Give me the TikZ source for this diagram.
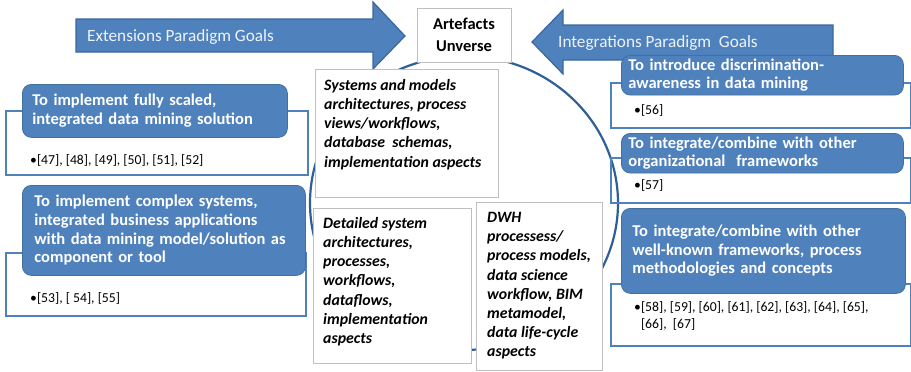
\documentclass[tikz,border=0pt]{standalone}
\usepackage{fontspec}
\setmainfont{Carlito}
\definecolor{goalblue}{HTML}{4F81BD}
\definecolor{goaledge}{HTML}{41719C}
\definecolor{arrowedge}{HTML}{3A679C}
\definecolor{arcblue}{HTML}{2F5F98}
\definecolor{boxgray}{HTML}{BFBFBF}
\definecolor{arrowtext}{HTML}{EEF3FA}

\tikzset{
  goalbox/.style={draw=goaledge, fill=goalblue, line width=0.8pt, rounded corners=9pt,
    anchor=north west, align=left, text=white,
    font=\fontsize{16.5}{18.6}\selectfont\bfseries},
  goalframe/.style={draw=goalblue, line width=2.2pt, anchor=north west, inner sep=0pt},
  artbox/.style={draw=boxgray, fill=white, line width=0.8pt, anchor=north west, inner sep=0pt},
  arttext/.style={anchor=north west, inner sep=0pt, align=left,
    font=\fontsize{15.8}{19.2}\selectfont\bfseries\itshape},
  reftext/.style={anchor=west, inner sep=0pt, align=left,
    font=\fontsize{13.7}{17}\selectfont},
  paradigm/.style={draw=arrowedge, fill=goalblue, line width=1.2pt, line join=miter},
  paradigmtext/.style={anchor=west, inner sep=0pt, text=arrowtext,
    font=\fontsize{17.2}{20}\selectfont},
  cycleline/.style={draw=arcblue, line width=2.2pt},
}

\begin{document}
\begin{tikzpicture}[x=1pt, y=-1pt]
\useasboundingbox (0,0) rectangle (911,372);

% the artefacts cycle behind everything
\draw[cycleline] (464,203) ellipse [x radius=154pt, y radius=147pt];

% paradigm arrows
\draw[paradigm] (76,19) -- (373,19) -- (373,2) -- (405,36) -- (373,69) -- (373,52) -- (76,52) -- cycle;
\node[paradigmtext] (extlabel) at (87,37) {Extensions Paradigm Goals};
\draw[paradigm] (833,25) -- (563,25) -- (563,10) -- (532,42) -- (563,74) -- (563,60) -- (833,60) -- cycle;
\node[paradigmtext] (intlabel) at (558,43) {Integrations Paradigm\ \ Goals};

% artefacts universe
\node[draw=boxgray, fill=white, line width=0.8pt, minimum width=94pt, minimum height=54pt,
      align=center, font=\fontsize{16.5}{22}\selectfont\bfseries] (universe) at (464,35)
      {Artefacts\\Unverse};

% artefact boxes
\node[artbox, minimum width=183pt, minimum height=128pt] (sysbox) at (315,69) {};
\node[arttext] (systxt) at (324,79) {Systems and models\\architectures, process\\views/workflows,\\database\ \ schemas,\\implementation aspects};
\node[artbox, minimum width=158pt, minimum height=155pt] (detbox) at (313,208) {};
\node[arttext] (dettxt) at (323,217) {Detailed system\\architectures,\\processes,\\workflows,\\dataflows,\\implementation\\aspects};
\node[artbox, minimum width=126pt, minimum height=168pt] (dwhbox) at (476,202) {};
\node[arttext] (dwhtxt) at (487,212) {DWH\\processess/\\process models,\\data science\\workflow, BIM\\metamodel,\\data life-cycle\\aspects};

% extensions paradigm goals (left)
\node[goalframe, minimum width=302pt, minimum height=64pt] (lf1) at (5,110) {};
\node[goalbox, minimum width=265pt, minimum height=53pt, text width=245pt, inner xsep=10pt] (lg1) at (22,84)
  {To implement fully scaled,\\integrated data mining solution};
\node[reftext] (lr1) at (30,160) {•[47], [48], [49], [50], [51], [52]};

\node[goalframe, minimum width=300pt, minimum height=63pt] (lf2) at (5,252) {};
\node[goalbox, minimum width=283pt, minimum height=90pt, text width=259pt, inner xsep=12pt] (lg2) at (22,185)
  {To implement complex systems,\\integrated business applications\\with data mining model/solution as\\component or tool};
\node[reftext] (lr2) at (30,298) {•[53], [ 54], [55]};

% integrations paradigm goals (right)
\node[goalframe, minimum width=300pt, minimum height=45pt] (rf1) at (610,82) {};
\node[goalbox, minimum width=282pt, minimum height=38pt, text width=268pt, inner xsep=7pt] (rg1) at (621,55)
  {To introduce discrimination-\\awareness in data mining};
\node[reftext] (rr1) at (634,110) {•[56]};

\node[goalframe, minimum width=300pt, minimum height=45pt] (rf2) at (610,157) {};
\node[goalbox, minimum width=282pt, minimum height=35pt, text width=268pt, inner xsep=7pt] (rg2) at (621,133)
  {To integrate/combine with other\\organizational\ \ frameworks};
\node[reftext] (rr2) at (634,185) {•[57]};

\node[goalframe, minimum width=300pt, minimum height=62pt] (rf3) at (610,283) {};
\node[goalbox, minimum width=284pt, minimum height=85pt, text width=262pt, inner xsep=11pt] (rg3) at (621,208)
  {To integrate/combine with other\\well-known frameworks, process\\methodologies and concepts};
\node[reftext, anchor=north west] (rr3) at (634,299)
  {\begin{tabular}{@{}l@{}l@{}}•&[58], [59], [60], [61], [62], [63], [64], [65],\\ &[66],\ \ [67]\end{tabular}};
\end{tikzpicture}
\end{document}
